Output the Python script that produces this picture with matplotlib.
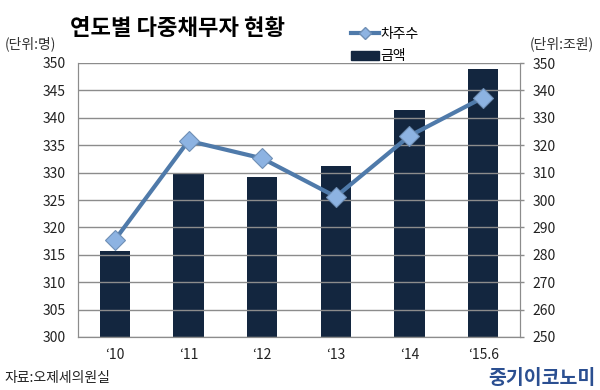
import numpy as np
import matplotlib.pyplot as plt
from matplotlib.lines import Line2D
from matplotlib.patches import Patch

plt.rcParams['font.family'] = ['Noto Sans CJK KR', 'DejaVu Sans']

# 데이터
years = ['‘10', '‘11', '‘12', '‘13', '‘14', '‘15.6']
borrowers = [317.7, 335.8, 332.6, 325.6, 336.7, 343.7]   # 차주수 (왼쪽 축)
amounts = [281.4, 309.5, 308.4, 312.4, 332.8, 347.8]     # 금액 (오른쪽 축, 조원)

bar_color = '#13263f'
line_color = '#4f7aaa'
marker_color = '#8db3e2'
grid_color = '#8c8c8c'

fig = plt.figure(figsize=(6, 3.9), dpi=100)
ax = fig.add_axes([78 / 600, 1 - 337 / 390, 442 / 600, 274 / 390])
ax2 = ax.twinx()

x = np.arange(len(years))
ax2.bar(x, amounts, width=0.41, color=bar_color, zorder=2)
ax2.set_ylim(250, 350)
ax2.set_yticks(np.arange(250, 351, 10))

ax.set_zorder(ax2.get_zorder() + 1)
ax.patch.set_visible(False)
ax.plot(x, borrowers, color=line_color, lw=3, marker='D', ms=10,
        mfc=marker_color, mec='#6f8fb5', mew=0.8, zorder=3)
ax.set_ylim(300, 350)
ax.set_yticks(np.arange(300, 351, 5))
ax.set_xlim(-0.5, len(years) - 0.5)
ax.set_xticks(x)
ax.set_xticklabels(years)

ax.grid(axis='y', color=grid_color, lw=1)
ax.set_axisbelow(True)

for a in (ax, ax2):
    for s in a.spines.values():
        s.set_color(grid_color)
    a.spines['top'].set_visible(False)
    a.tick_params(colors='#222222', labelsize=10, width=1)
    a.tick_params(axis='y', color=grid_color)
ax.tick_params(axis='x', length=0, pad=8)
ax.tick_params(axis='y', length=0, pad=9)
ax2.tick_params(axis='y', length=3, pad=6)

fig.text(0.117, 0.928, '연도별 다중채무자 현황', fontsize=16, fontweight='bold',
         va='center', ha='left')
fig.text(0.008, 0.888, '(단위:명)', fontsize=10, va='center', color='#333333')
fig.text(0.99, 0.888, '(단위:조원)', fontsize=10, va='center', ha='right', color='#333333')
fig.text(0.008, 0.03, '자료:오제세의원실', fontsize=10, va='center', color='#222222')
fig.text(0.993, 0.03, '중기이코노미', fontsize=14, fontweight='bold', va='center',
         ha='right', color='#2b4f91')

handles = [Line2D([0], [0], color=line_color, lw=3, marker='D', ms=6,
                  mfc=marker_color, mec='#6f8fb5'),
           Patch(color=bar_color)]
fig.legend(handles, ['차주수', '금액'], loc='upper left',
           bbox_to_anchor=(0.565, 0.963), frameon=False, fontsize=10,
           handlelength=2.0, handletextpad=0.1, labelspacing=0.6)

fig.savefig('out.png', dpi=100)
